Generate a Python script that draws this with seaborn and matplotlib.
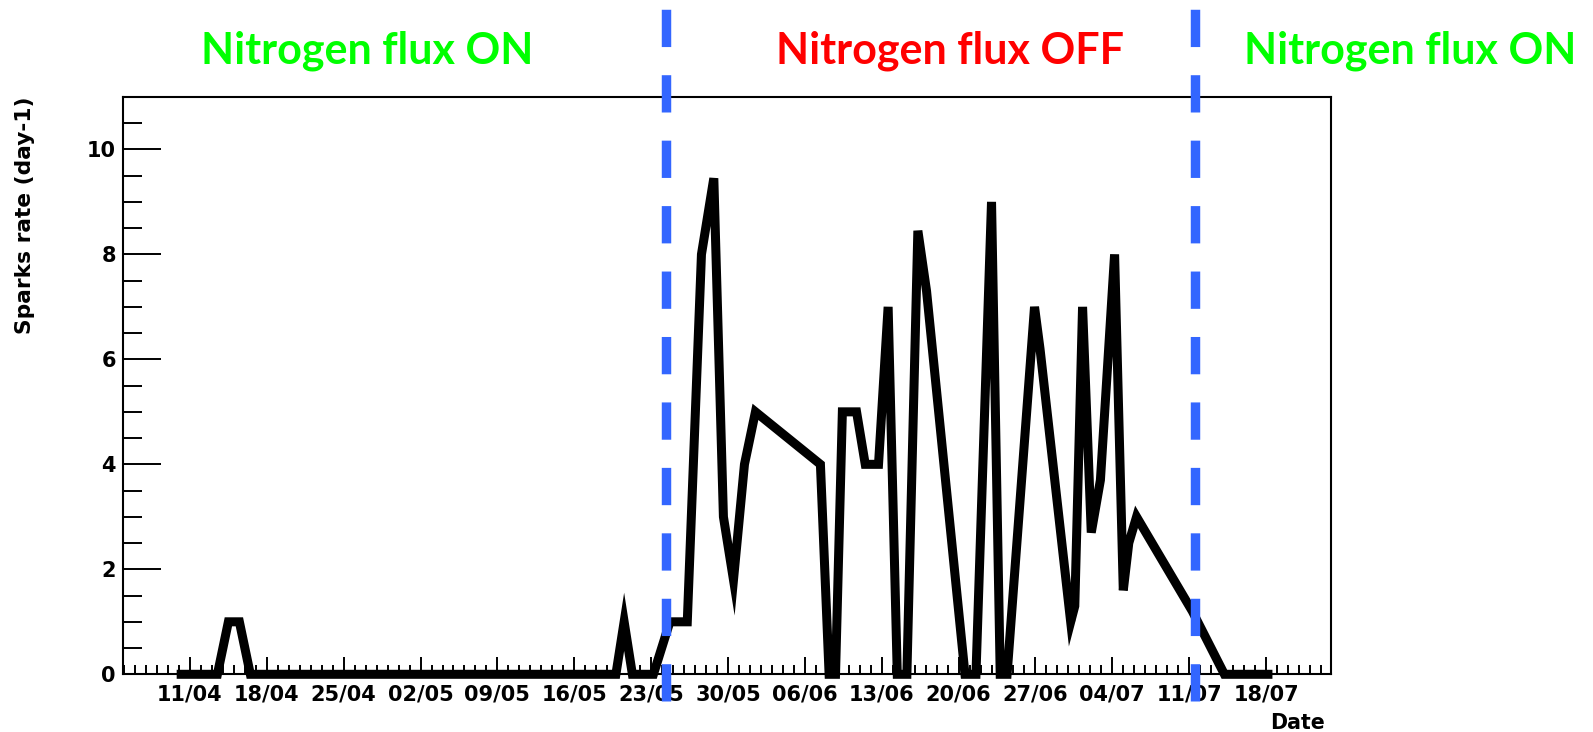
import matplotlib
matplotlib.use("Agg")
import matplotlib.pyplot as plt
import matplotlib.dates as mdates
from matplotlib.ticker import MultipleLocator
import pandas as pd
import seaborn as sns

# Spark rate of the chamber, one entry per readout
timestamps = [
    "2011-04-09 19:00", "2011-04-13 12:00", "2011-04-14 12:00", "2011-04-15 12:00",
    "2011-04-16 12:00", "2011-05-19 19:00", "2011-05-20 13:00", "2011-05-21 07:00",
    "2011-05-23 05:00", "2011-05-24 17:00", "2011-05-26 07:00", "2011-05-27 14:00",
    "2011-05-28 17:00", "2011-05-29 14:00", "2011-05-30 12:00", "2011-05-31 12:00",
    "2011-06-01 12:00", "2011-06-07 10:00", "2011-06-08 05:00", "2011-06-08 19:00",
    "2011-06-09 10:00", "2011-06-10 17:00", "2011-06-11 12:00", "2011-06-12 17:00",
    "2011-06-13 14:00", "2011-06-14 10:00", "2011-06-15 07:00", "2011-06-16 07:00",
    "2011-06-17 02:00", "2011-06-20 14:00", "2011-06-21 14:00", "2011-06-23 00:00",
    "2011-06-23 19:00", "2011-06-24 10:00", "2011-06-26 22:00", "2011-06-27 10:00",
    "2011-06-30 05:00", "2011-06-30 14:00", "2011-07-01 07:00", "2011-07-02 02:00",
    "2011-07-02 22:00", "2011-07-04 05:00", "2011-07-05 00:00", "2011-07-05 12:00",
    "2011-07-06 05:00", "2011-07-11 07:00", "2011-07-14 05:00", "2011-07-18 14:00",
]
spark_rate = [
    0, 0, 1, 1,
    0, 0, 1.0, 0,
    0, 1, 1, 8,
    9.45, 3, 1.8, 4,
    5, 4, 0, 0,
    5, 5, 4, 4,
    7, 0, 0, 8.45,
    7.3, 0, 0, 9,
    0, 0, 7, 6.2,
    1, 1.3, 7, 2.7,
    3.7, 8, 1.6, 2.5,
    3.0, 1.2, 0, 0,
]

# Dates at which the nitrogen flushing was switched off and back on
flux_switch = ["2011-05-24 08:00", "2011-07-11 13:00"]

period_labels = ["Nitrogen flux ON", "Nitrogen flux OFF", "Nitrogen flux ON"]
period_colors = ["#00ff00", "#ff0000", "#00ff00"]
period_centers = [367, 950, 1410]  # heading centres, pixels from the left

y_ticks = [0, 2, 4, 6, 8, 10]

df = pd.DataFrame({"time": pd.to_datetime(timestamps), "rate": spark_rate})

sns.set_theme(style="ticks")
plt.rcParams["font.family"] = ["DejaVu Sans"]
plt.rcParams["font.weight"] = "bold"
plt.rcParams["lines.scale_dashes"] = False

W, H = 1593, 732
fig = plt.figure(figsize=(W / 100, H / 100), dpi=100)
fig.patch.set_facecolor("white")
ax = fig.add_axes([122.7 / W, (H - 674.3) / H, 1208.3 / W, 577.4 / H])
ax.set_facecolor("white")

sns.lineplot(
    data=df, x="time", y="rate", ax=ax, sort=False, estimator=None,
    color="black", linewidth=6.5, clip_on=False,
    solid_joinstyle="miter", solid_capstyle="butt", zorder=3,
)

ax.set_xlim(pd.Timestamp("2011-04-04 21:00"), pd.Timestamp("2011-07-23 22:00"))
ax.set_ylim(0, 11)

ax.xaxis.set_major_locator(mdates.WeekdayLocator(byweekday=mdates.MO))
ax.xaxis.set_minor_locator(mdates.DayLocator())
ax.xaxis.set_major_formatter(mdates.DateFormatter("%d/%m"))
ax.set_yticks(y_ticks)
ax.set_yticklabels([str(v) for v in y_ticks])
ax.yaxis.set_minor_locator(MultipleLocator(0.5))

ax.tick_params(axis="x", which="major", direction="in", length=12.2, width=1.4,
               pad=7, labelsize=15, colors="black", top=False)
ax.tick_params(axis="x", which="minor", direction="in", length=6.5, width=1.4,
               colors="black", top=False)
ax.tick_params(axis="y", which="major", direction="in", length=27, width=1.4,
               pad=5, labelsize=15, colors="black", right=False)
ax.tick_params(axis="y", which="minor", direction="in", length=14, width=1.4,
               colors="black", right=False)
for spine in ax.spines.values():
    spine.set_visible(True)
    spine.set_color("black")
    spine.set_linewidth(1.5)

ax.set_xlabel("Date", loc="right", fontsize=14.8, fontweight="bold", color="black")
ax.xaxis.set_label_coords(0.995, -0.067)
ax.set_ylabel("Sparks rate (day-1)", loc="top", fontsize=15.7, fontweight="bold",
              color="black")
ax.yaxis.set_label_coords(-0.0726, 1.0)

# Dashed markers where the nitrogen flux was changed
for when in flux_switch:
    ax.axvline(pd.Timestamp(when), ymin=-0.0455, ymax=1.1526, clip_on=False,
               color="#3366ff", linewidth=6.8, dashes=(26.85, 20.27),
               dash_capstyle="butt", zorder=4)

for label, color, cx in zip(period_labels, period_colors, period_centers):
    fig.text(cx / W, 1 - 63.3 / H, label, ha="center", va="baseline",
             color=color, fontsize=31, fontweight="bold", family="Lato")

fig.savefig("out.png", dpi=100, facecolor="white")
